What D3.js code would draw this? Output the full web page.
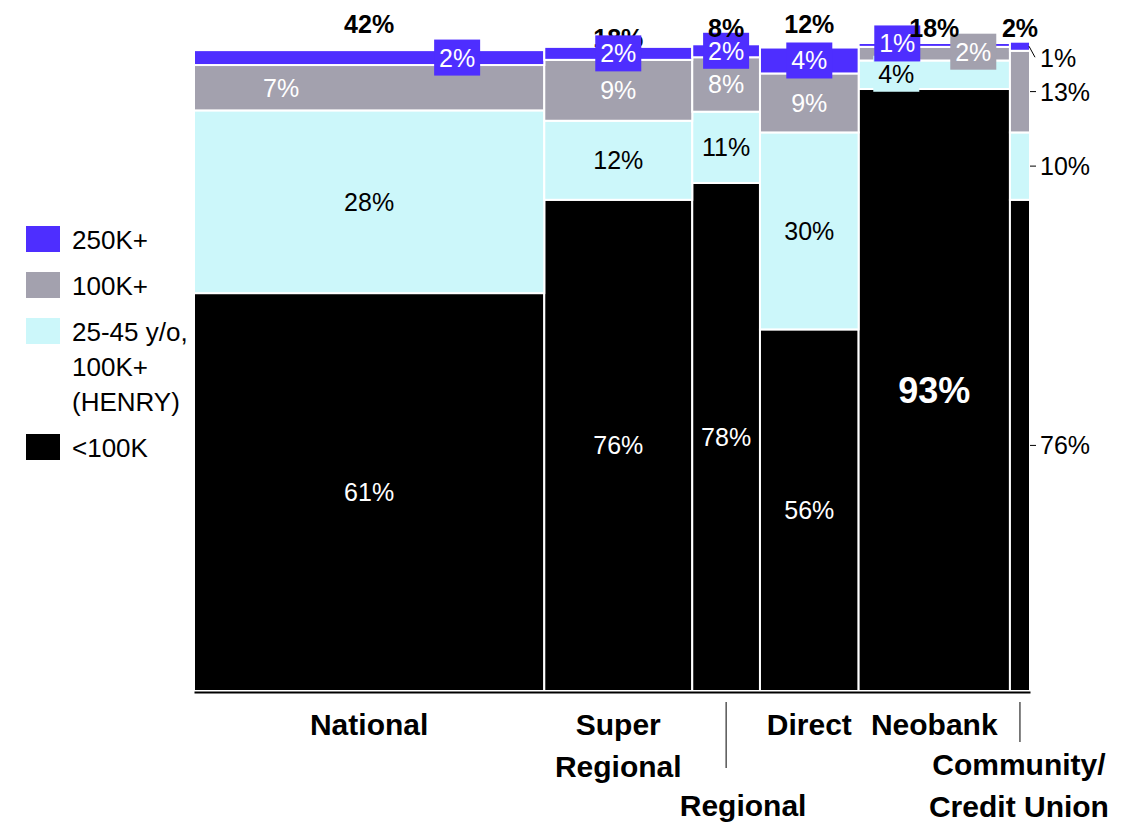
<!DOCTYPE html>
<html><head><meta charset="utf-8">
<script src="https://cdn.jsdelivr.net/npm/d3@7"></script>
<style>
body{margin:0;background:#fff;}
svg{display:block;}
text{font-family:"Liberation Sans",Arial,Helvetica,sans-serif;}
</style>
</head><body>
<svg id="chart" width="1122" height="822"></svg>
<script>
// ---------------- DATA ----------------
const categories = ["National","Super Regional","Regional","Direct","Neobank","Community/Credit Union"];
const categoryLabelLines = [["National"],["Super","Regional"],["Regional"],["Direct"],["Neobank"],["Community/","Credit Union"]];
const categoryShare = [41.9,17.7,8.1,11.8,18.1,2.4];           // column widths (% of total)
const seriesNames = ["<100K","25-45 y/o, 100K+ (HENRY)","100K+","250K+"];
const legendLabelLines = [["<100K"],["25-45 y/o,","100K+","(HENRY)"],["100K+"],["250K+"]];
const under100K = [61.4,75.8,78.4,55.8,92.9,75.8];
const henry     = [28.2,12.2,11.0,30.4,4.4,10.4];
const k100      = [7.0,9.4,8.4,9.1,2.1,12.6];
const k250      = [2.3,2.0,2.0,4.0,0.6,1.4];

// ---------------- STYLE / LAYOUT ----------------
const colors = ["#000000","#CCF7FA","#A3A1AE","#4E2EFF"];
const segTextColor = ["#ffffff","#000000","#ffffff","#ffffff"];
const FONT = 25;
const LAYOUT = {
  x0:194, x1:1030, yBase:691, yTop:43,
  topLabelBaseline:[33,47,37,33,37,37],
  topLabelBehind:[false,true,false,false,false,false],
  segDx:[[0,0,-88,88],[0,0,0,0],[0,0,0,0],[0,0,0,0],[0,-38,39,-37]],
  segDy:[[0,0,0,0],[0,0,0,0],[0,0,0,0],[0,0,0,0],[0,-1,-2,-1.5]],
  segBox:[[0,0,0,1],[0,0,0,1],[0,0,0,1],[0,0,0,1],[0,1,1,1]],
  bigLabel:{cat:4, series:0, size:36},
  outsideCat:5, outsideTextX:1040, outsideDy:[0,0,0,12],
  catLabelBaselines:[[735],[735,777],[816],[735],[735],[775,817]],
  catLabelDx:[0,0,17,0,0,-1],
  leaders:[null,null,[702,768],null,null,[702,742]],
  legendX:26, legendTextX:72, legendY0:226, legendRectW:34, legendRectH:26
};

const svg = d3.select("#chart");
const x = d3.scaleLinear().domain([0,100]).range([LAYOUT.x0, LAYOUT.x1]);
const y = d3.scaleLinear().domain([0,100]).range([LAYOUT.yBase, LAYOUT.yTop]);

const seriesValues = [under100K, henry, k100, k250];
const rows = categories.map((c,i)=>{
  const r = {cat:c};
  seriesNames.forEach((s,j)=> r[s] = seriesValues[j][i]);
  return r;
});
const stacked = d3.stack().keys(seriesNames)(rows);
const cumEnd = d3.cumsum(categoryShare);
const cumStart = categoryShare.map((v,i)=> cumEnd[i]-v);
const fmt = v => d3.format(".0f")(v) + "%";

const gBars = svg.append("g");
const gTopBehind = svg.append("g");
const gSeg = svg.append("g");
const gTop = svg.append("g");
const gOut = svg.append("g");

// Bars
stacked.forEach((layer,j)=>{
  gBars.selectAll(null).data(layer).join("rect")
    .attr("x",(d,i)=> x(cumStart[i]))
    .attr("width",(d,i)=> x(cumEnd[i]) - x(cumStart[i]))
    .attr("y", d=> y(d[1]))
    .attr("height", d=> y(d[0]) - y(d[1]))
    .attr("fill", colors[j])
    .attr("stroke","#fff").attr("stroke-width",2);
});

// Top (column share) labels
categories.forEach((c,i)=>{
  const g = LAYOUT.topLabelBehind[i] ? gTopBehind : gTop;
  g.append("text")
    .attr("x", x((cumStart[i]+cumEnd[i])/2))
    .attr("y", LAYOUT.topLabelBaseline[i])
    .attr("text-anchor","middle")
    .attr("font-size",FONT).attr("font-weight","bold")
    .attr("fill","#000")
    .text(fmt(categoryShare[i]));
});

// Segment labels
stacked.forEach((layer,j)=>{
  layer.forEach((d,i)=>{
    const cx = x((cumStart[i]+cumEnd[i])/2);
    const cy = (y(d[0]) + y(d[1]))/2;
    if(i === LAYOUT.outsideCat){
      const dy = LAYOUT.outsideDy[j];
      const xe = x(100);
      if(dy === 0){
        gOut.append("line").attr("x1",xe).attr("x2",xe+6).attr("y1",cy).attr("y2",cy)
          .attr("stroke","#000").attr("stroke-width",1);
      } else {
        gOut.append("line").attr("x1",xe-1).attr("x2",xe+5).attr("y1",cy).attr("y2",cy+dy-1)
          .attr("stroke","#000").attr("stroke-width",1);
      }
      gOut.append("text").attr("x",LAYOUT.outsideTextX).attr("y",cy+dy+FONT*0.36)
        .attr("font-size",FONT).attr("fill","#000").text(fmt(d.data[seriesNames[j]]));
      return;
    }
    const px = cx + LAYOUT.segDx[i][j];
    const py = cy + LAYOUT.segDy[i][j];
    const big = (LAYOUT.bigLabel.cat===i && LAYOUT.bigLabel.series===j);
    const size = big ? LAYOUT.bigLabel.size : FONT;
    if(LAYOUT.segBox[i][j]){
      gSeg.append("rect").attr("x",px-23).attr("y",py-18).attr("width",46).attr("height",36)
        .attr("fill",colors[j]);
    }
    gSeg.append("text").attr("x",px).attr("y",py+size*0.36)
      .attr("text-anchor","middle")
      .attr("font-size",size).attr("font-weight", big?"bold":"normal")
      .attr("fill",segTextColor[j])
      .text(fmt(d.data[seriesNames[j]]));
  });
});

// X axis baseline
const axis = svg.append("g").attr("transform",`translate(0,${LAYOUT.yBase+1})`)
  .call(d3.axisBottom(x).ticks(0).tickSizeOuter(0));
axis.select(".domain").attr("stroke","#000").attr("stroke-width",2);
axis.selectAll(".tick").remove();

// Category labels
categories.forEach((c,i)=>{
  const cx = x((cumStart[i]+cumEnd[i])/2);
  categoryLabelLines[i].forEach((line,k)=>{
    svg.append("text").attr("x",cx+LAYOUT.catLabelDx[i]).attr("y",LAYOUT.catLabelBaselines[i][k])
      .attr("text-anchor","middle").attr("font-size",30).attr("font-weight","bold")
      .attr("fill","#000").text(line);
  });
  const ld = LAYOUT.leaders[i];
  if(ld){
    svg.append("line").attr("x1",cx).attr("x2",cx).attr("y1",ld[0]).attr("y2",ld[1])
      .attr("stroke","#000").attr("stroke-width",1);
  }
});

// Legend (top to bottom: 250K+, 100K+, HENRY, <100K)
let ly = LAYOUT.legendY0;
[3,2,1,0].forEach(j=>{
  const lines = legendLabelLines[j];
  svg.append("rect").attr("x",LAYOUT.legendX).attr("y",ly)
    .attr("width",LAYOUT.legendRectW).attr("height",LAYOUT.legendRectH).attr("fill",colors[j]);
  lines.forEach((t,k)=>{
    svg.append("text").attr("x",LAYOUT.legendTextX).attr("y",ly+23+k*35)
      .attr("font-size",26).attr("fill","#000").text(t);
  });
  ly += 46 + (lines.length-1)*35;
});
</script>
</body></html>
